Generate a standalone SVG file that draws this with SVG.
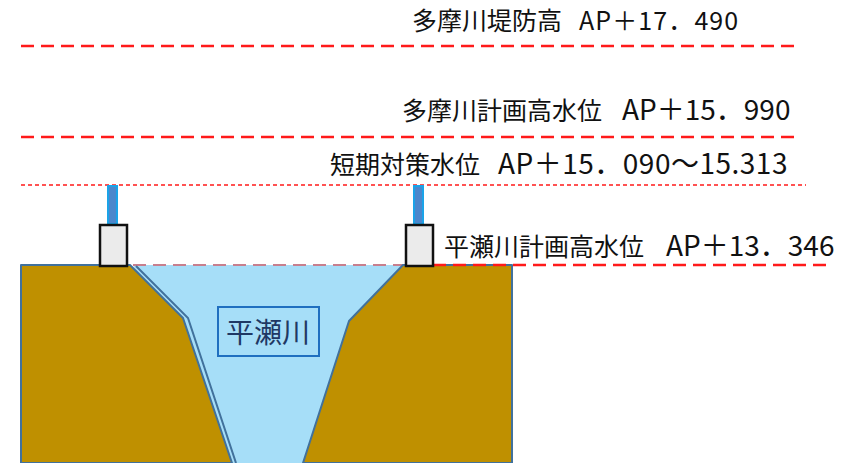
<svg xmlns="http://www.w3.org/2000/svg" width="854" height="463" viewBox="0 0 854 463">
  <style>
    .lbl { font-family: "Noto Sans CJK JP", "Noto Sans", sans-serif; font-size: 25px; fill: #111; }
    .num { font-size: 28px; }
    .lvl { fill: none; stroke: #ff1a1a; }
    .thick { stroke-width: 2.5; stroke-dasharray: 13 7; }
    .thin { stroke-width: 1.5; stroke-dasharray: 4 3; }
    .bank { fill: #BF9000; stroke: #41719C; stroke-width: 2; stroke-linejoin: round; }
    .wall { fill: #ebebeb; stroke: #111; stroke-width: 2.5; }
    .post { fill: #4b87cc; stroke: #1aa3e8; stroke-width: 2; }
  </style>

  <rect width="854" height="463" fill="#ffffff"/>

  <!-- water level lines -->
  <g id="levels">
    <line class="lvl thick" x1="21" y1="46" x2="796" y2="46"/>
    <line class="lvl thick" x1="21" y1="137" x2="800" y2="137"/>
    <line class="lvl thin" x1="21" y1="185" x2="806" y2="185"/>
  </g>

  <!-- channel cross-section -->
  <g id="water">
    <polygon points="133,265 403,265 303,463 232,463" fill="#A6DEF8"/>
    <line x1="133" y1="265" x2="403" y2="265" stroke="#c77f8e" stroke-width="2" stroke-dasharray="13 7"/>
    <polyline points="136,266 188,318 236,463" fill="none" stroke="#41719C" stroke-width="2"/>
  </g>
  <g id="left-bank">
    <polygon class="bank" points="21,265 130,265 183,318 232,463 21,463"/>
  </g>
  <g id="right-bank">
    <polygon class="bank" points="403,265 512,265 512,463 303,463 349,321"/>
  </g>
  <line class="lvl thick" x1="433" y1="265" x2="830" y2="265"/>

  <!-- parapet walls with raised posts -->
  <g id="left-wall">
    <rect class="post" x="108" y="186" width="9" height="38"/>
    <rect class="wall" x="100" y="225" width="27" height="41"/>
  </g>
  <g id="right-wall">
    <rect class="post" x="414" y="186" width="9" height="38"/>
    <rect class="wall" x="406" y="225" width="27" height="41"/>
  </g>

  <!-- river name -->
  <g id="river-label">
    <rect x="218" y="307" width="101" height="49" fill="none" stroke="#1f6fc0" stroke-width="2"/>
    <text x="268" y="343" text-anchor="middle" font-family="Noto Sans CJK JP, sans-serif" font-size="28" fill="#1f3864">平瀬川</text>
  </g>

  <!-- level labels -->
  <g id="labels">
    <text class="lbl" x="412" y="30">多摩川堤防高</text>
    <text class="lbl" x="579" y="30" font-size="26" letter-spacing="1.1">AP＋17．490</text>
    <text class="lbl" x="402" y="120">多摩川計画高水位</text>
    <text class="lbl num" x="622" y="120">AP＋15．990</text>
    <text class="lbl" x="330" y="174">短期対策水位</text>
    <text class="lbl num" x="498" y="174" letter-spacing="0.5">AP＋15．090〜15.313</text>
    <text class="lbl" x="444" y="256">平瀬川計画高水位</text>
    <text class="lbl num" x="666" y="256">AP＋13．346</text>
  </g>
</svg>
